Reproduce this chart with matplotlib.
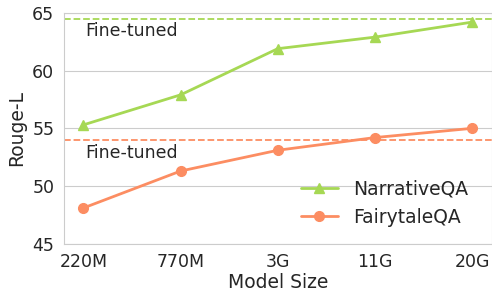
import numpy as np
import matplotlib
matplotlib.use('Agg')
import matplotlib.pyplot as plt
import seaborn as sns

# model sizes and Rouge-L scores
sizes = ['220M', '770M', '3G', '11G', '20G']
narrative = [55.3, 57.9, 61.9, 62.9, 64.2]
fairytale = [48.1, 51.3, 53.1, 54.2, 55.0]
ft_narrative = 64.5
ft_fairytale = 54.0

sns.set_style('whitegrid')
plt.rcParams['font.family'] = ['DejaVu Sans']
green = '#a6d854'
orange = '#fc8d62'

fig, ax = plt.subplots(figsize=(4.92, 2.93), dpi=100)
x = np.arange(len(sizes))
ax.plot(x, narrative, color=green, marker='^', lw=2, ms=7, label='NarrativeQA')
ax.plot(x, fairytale, color=orange, marker='o', lw=2, ms=7, label='FairytaleQA')
ax.axhline(ft_narrative, color=green, ls='--', lw=1.3)
ax.axhline(ft_fairytale, color=orange, ls='--', lw=1.3)
ax.text(0.02, ft_narrative - 1.1, 'Fine-tuned', fontsize=12.5, color='#262626', va='center')
ax.text(0.02, ft_fairytale - 1.1, 'Fine-tuned', fontsize=12.5, color='#262626', va='center')

ax.set_xticks(x)
ax.set_xticklabels(sizes, fontsize=12.5)
ax.tick_params(axis='y', labelsize=12.5)
ax.grid(axis='x', visible=False)
ax.set_xlim(-0.2, 4.2)
ax.set_ylim(45, 65)
ax.set_yticks([45, 50, 55, 60, 65])
ax.set_xlabel('Model Size', fontsize=13.5, labelpad=1)
ax.set_ylabel('Rouge-L', fontsize=13.5)
ax.legend(loc='lower right', bbox_to_anchor=(0.985, 0.0), fontsize=13.5, frameon=False)
plt.subplots_adjust(left=0.13, right=0.999, top=0.956, bottom=0.168)
plt.savefig('out.png')
